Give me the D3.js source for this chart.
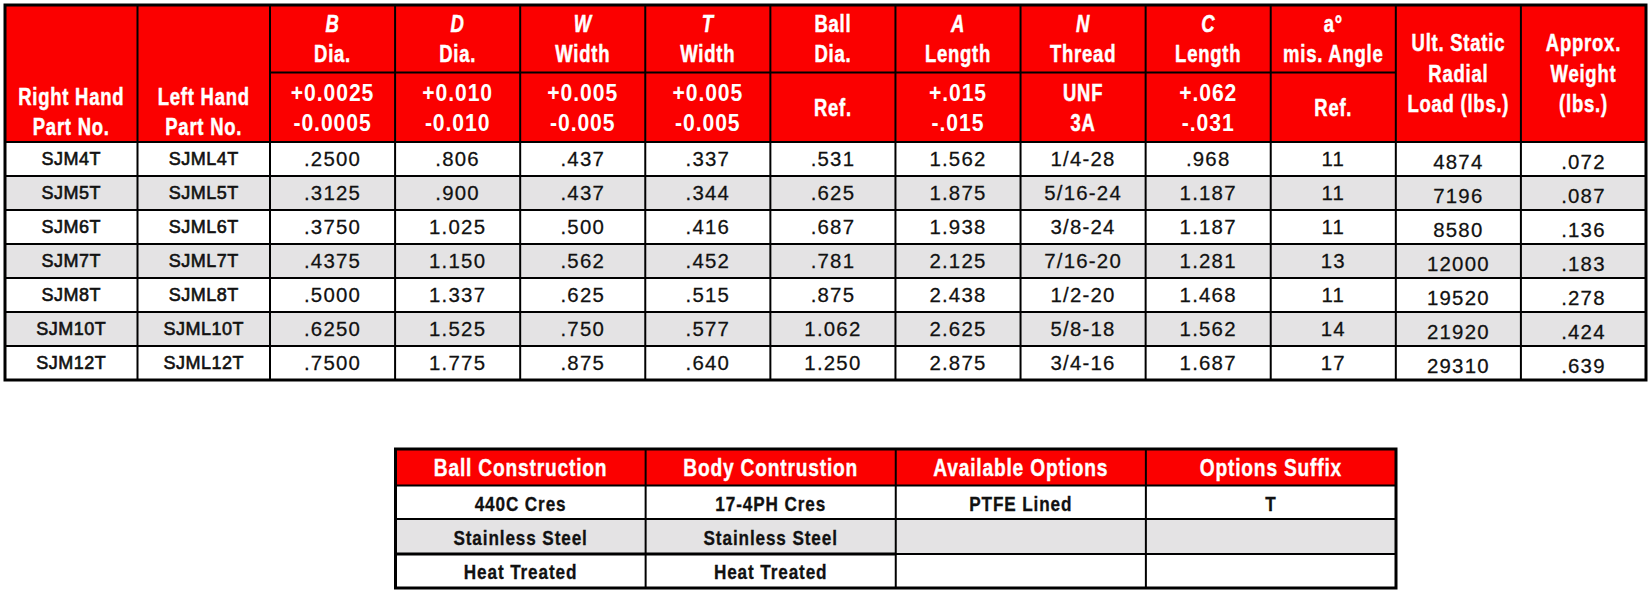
<!DOCTYPE html>
<html>
<head>
<meta charset="utf-8">
<script src="https://cdn.jsdelivr.net/npm/d3@7/dist/d3.min.js"></script>
<style>
  html, body { margin: 0; background: #fff; }
  svg { display: block; }
</style>
</head>
<body>
<div id="chart"></div>
<script>
const rightHand = ["SJM4T","SJM5T","SJM6T","SJM7T","SJM8T","SJM10T","SJM12T"];
const leftHand = ["SJML4T","SJML5T","SJML6T","SJML7T","SJML8T","SJML10T","SJML12T"];
const bDia = [".2500",".3125",".3750",".4375",".5000",".6250",".7500"];
const dDia = [".806",".900","1.025","1.150","1.337","1.525","1.775"];
const wWidth = [".437",".437",".500",".562",".625",".750",".875"];
const tWidth = [".337",".344",".416",".452",".515",".577",".640"];
const ballDia = [".531",".625",".687",".781",".875","1.062","1.250"];
const aLength = ["1.562","1.875","1.938","2.125","2.438","2.625","2.875"];
const nThread = ["1/4-28","5/16-24","3/8-24","7/16-20","1/2-20","5/8-18","3/4-16"];
const cLength = [".968","1.187","1.187","1.281","1.468","1.562","1.687"];
const misAngle = ["11","11","11","13","11","14","17"];
const radialLoad = ["4874","7196","8580","12000","19520","21920","29310"];
const weight = [".072",".087",".136",".183",".278",".424",".639"];
const dataColumns = [rightHand,leftHand,bDia,dDia,wWidth,tWidth,ballDia,aLength,nThread,cLength,misAngle,radialLoad,weight];

const letters = ["B","D","W","T","Ball","A","N","C","a°"];
const names = ["Dia.","Dia.","Width","Width","Dia.","Length","Thread","Length","mis. Angle"];
const tolerances = [["+0.0025","-0.0005"],["+0.010","-0.010"],["+0.005","-0.005"],["+0.005","-0.005"],["Ref."],["+.015","-.015"],["UNF","3A"],["+.062","-.031"],["Ref."]];
const partHeads = [["Right Hand","Part No."],["Left Hand","Part No."]];
const sideHeads = [["Ult. Static","Radial","Load (lbs.)"],["Approx.","Weight","(lbs.)"]];

const optHeads = ["Ball Construction","Body Contrustion","Available Options","Options Suffix"];
const ballConstruction = ["440C Cres","Stainless Steel","Heat Treated"];
const bodyConstruction = ["17-4PH Cres","Stainless Steel","Heat Treated"];
const availableOptions = ["PTFE Lined","",""];
const optionsSuffix = ["T","",""];
const optColumns = [ballConstruction,bodyConstruction,availableOptions,optionsSuffix];

const RED = "#fb0000", GREY = "#e4e3e4";
const FONT = "'Liberation Sans',sans-serif";

const svg = d3.select("#chart").append("svg").attr("width",1651).attr("height",596);

// edge index -> pixel, first two columns are wider
const x = d3.scaleLinear().domain([0,2,13]).range([5,270,1646]);
const y = d3.scaleLinear().domain([0,7]).range([142,380]);
const mid = i => (x(i)+x(i+1))/2;

// no condensed font on the box, so squeeze/stretch the text horizontally
function label(g, str, cx, cy, o) {
  return g.append("text")
    .attr("transform",`translate(${cx},${cy}) scale(${o.sx},1)`)
    .attr("text-anchor","middle")
    .attr("dominant-baseline","central")
    .attr("font-family",FONT)
    .attr("font-weight",o.bold ? "bold" : "normal")
    .attr("font-style",o.italic ? "italic" : "normal")
    .attr("font-size",o.size)
    .attr("letter-spacing",o.spacing)
    .attr("fill",o.fill)
    .attr("stroke",o.stroke || "none")
    .attr("stroke-width",o.stroke ? o.sw : 0)
    .text(str);
}

const headStyle = {sx:.77,size:24,spacing:1,bold:true,fill:"#fff",stroke:"#fff",sw:.5};
const tolStyle = {sx:.92,size:23,spacing:1,bold:true,fill:"#fff"};

const main = svg.append("g");
main.append("rect").attr("x",x(0)).attr("y",5).attr("width",x(13)-x(0)).attr("height",y(0)-5).attr("fill",RED);
main.selectAll(".band").data(d3.range(7)).join("rect")
  .attr("x",x(0)).attr("y",d=>y(d)).attr("width",x(13)-x(0)).attr("height",y(1)-y(0))
  .attr("fill",d=>d%2 ? GREY : "#fff");

partHeads.forEach((p,i)=>{
  label(main,p[0],mid(i),97,headStyle);
  label(main,p[1],mid(i),127.5,headStyle);
});
letters.forEach((l,i)=>{
  label(main,l,mid(i+2),24.5,{...headStyle,italic:l.length===1});
  label(main,names[i],mid(i+2),54.5,headStyle);
  const t = tolerances[i];
  const ys = t.length===2 ? [93,123] : [108];
  t.forEach((s,k)=>label(main,s,mid(i+2),ys[k],/^[+-]/.test(s) ? tolStyle : {...headStyle,sx:.8,size:23}));
});
sideHeads.forEach((s,i)=>s.forEach((t,k)=>label(main,t,mid(i+11),[43,74,104][k],headStyle)));

dataColumns.forEach((col,c)=>{
  col.forEach((d,r)=>label(main,d,mid(c),(y(r)+y(r+1))/2+(c>=11 ? 3 : 0),
    c<2 ? {sx:1,size:18,spacing:.5,fill:"#111",stroke:"#111",sw:.6}
        : {sx:1.02,size:20,spacing:1.2,fill:"#111",stroke:"#111",sw:.25}));
});

// grid
main.selectAll(".v").data(d3.range(1,13)).join("line")
  .attr("x1",d=>x(d)).attr("x2",d=>x(d)).attr("y1",5).attr("y2",380)
  .attr("stroke","#000").attr("stroke-width",2);
main.selectAll(".h").data(d3.range(0,7)).join("line")
  .attr("x1",x(0)).attr("x2",x(13)).attr("y1",d=>y(d)).attr("y2",d=>y(d))
  .attr("stroke","#000").attr("stroke-width",2);
main.append("line").attr("x1",x(2)).attr("x2",x(11)).attr("y1",72.5).attr("y2",72.5)
  .attr("stroke","#000").attr("stroke-width",2);
main.append("rect").attr("x",x(0)).attr("y",5).attr("width",x(13)-x(0)).attr("height",375)
  .attr("fill","none").attr("stroke","#000").attr("stroke-width",3);

// options table
const ox = d3.scaleLinear().domain([0,4]).range([395.5,1396]);
const oRow = d3.scaleOrdinal().domain(d3.range(5)).range([449,485.5,519,554,588]);

const opt = svg.append("g");
opt.selectAll("rect.row").data(d3.range(4)).join("rect")
  .attr("x",ox(0)).attr("width",ox(4)-ox(0))
  .attr("y",d=>oRow(d)).attr("height",d=>oRow(d+1)-oRow(d))
  .attr("fill",d=>d===0 ? RED : d===2 ? GREY : "#fff");
optHeads.forEach((d,i)=>label(opt,d,(ox(i)+ox(i+1))/2,(oRow(0)+oRow(1))/2,{sx:.8,size:24,spacing:1,bold:true,fill:"#fff",stroke:"#fff",sw:.4}));
optColumns.forEach((col,c)=>{
  col.forEach((d,r)=>label(opt,d,(ox(c)+ox(c+1))/2,(oRow(r+1)+oRow(r+2))/2+1.5,{sx:.88,size:19.5,spacing:1,bold:true,fill:"#111",stroke:"#111",sw:.3}));
});
opt.selectAll(".ov").data(d3.range(1,4)).join("line")
  .attr("x1",d=>ox(d)).attr("x2",d=>ox(d)).attr("y1",oRow(0)).attr("y2",oRow(4))
  .attr("stroke","#000").attr("stroke-width",2);
opt.selectAll(".oh").data(d3.range(1,4)).join("line")
  .attr("x1",ox(0)).attr("x2",ox(4)).attr("y1",d=>oRow(d)).attr("y2",d=>oRow(d))
  .attr("stroke","#000").attr("stroke-width",2);
// rule under the two material columns is a bit heavier
opt.append("line").attr("x1",ox(0)).attr("x2",ox(2)).attr("y1",oRow(3)).attr("y2",oRow(3))
  .attr("stroke","#000").attr("stroke-width",3);
opt.append("rect").attr("x",ox(0)).attr("y",oRow(0)).attr("width",ox(4)-ox(0)).attr("height",oRow(4)-oRow(0))
  .attr("fill","none").attr("stroke","#000").attr("stroke-width",3);
</script>
</body>
</html>
